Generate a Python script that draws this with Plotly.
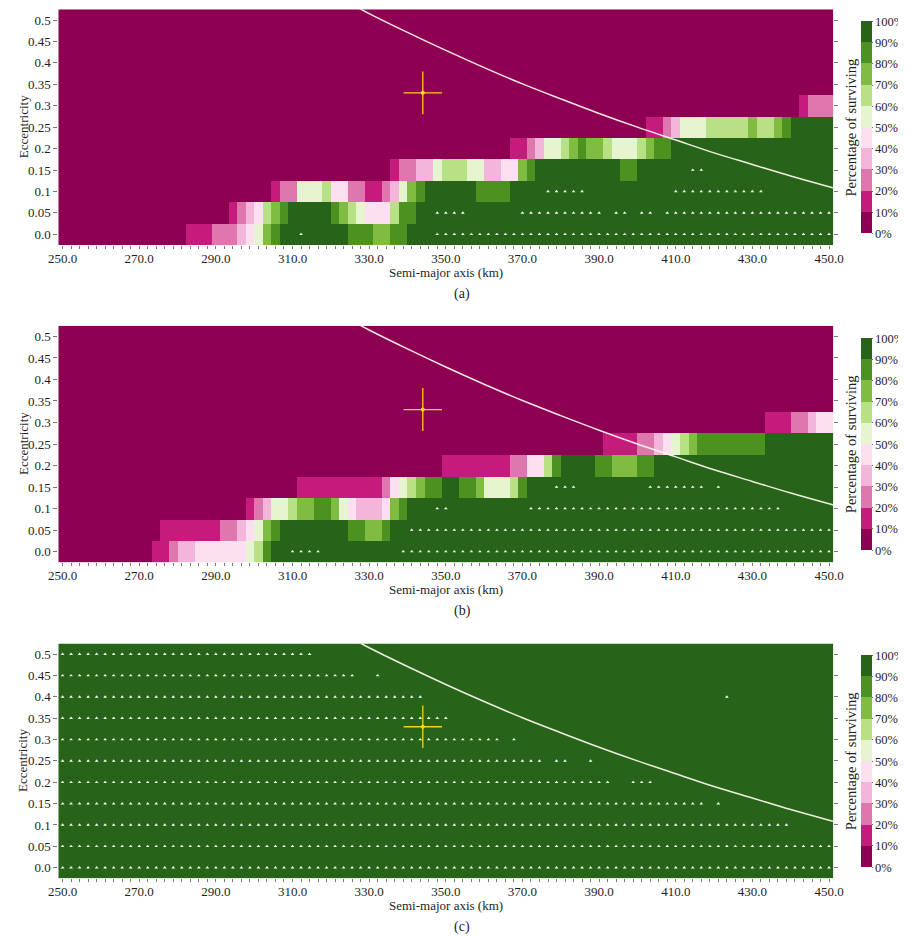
import numpy as np
import plotly.graph_objects as go

# ---------------- data ----------------
# grid of the simulation: 91 semi-major axis values (250..450 km), 11 eccentricities
semi_major_axis_km = np.linspace(250.0, 450.0, 91)
eccentricity = [0.0, 0.05, 0.1, 0.15, 0.2, 0.25, 0.3, 0.35, 0.4, 0.45, 0.5]
x_tick_labels = ["250.0", "270.0", "290.0", "310.0", "330.0", "350.0",
                 "370.0", "390.0", "410.0", "430.0", "450.0"]
y_tick_labels = ["0.0", "0.05", "0.1", "0.15", "0.2", "0.25", "0.3",
                 "0.35", "0.4", "0.45", "0.5"]
cbar_tick_labels = ["0%", "10%", "20%", "30%", "40%", "50%",
                    "60%", "70%", "80%", "90%", "100%"]

# surviving percentage, given per row (e = 0.0 upward) as runs of
# (decile class, number of consecutive a-cells); class k means k*10..k*10+10 %
survival_a_runs = [
    [(0, 15), (1, 3), (2, 3), (3, 1), (4, 1), (5, 1), (7, 1), (8, 1), (9, 8), (8, 3), (7, 2), (8, 2), (9, 50)],
    [(0, 20), (1, 1), (2, 1), (3, 1), (4, 1), (6, 1), (7, 1), (8, 1), (9, 5), (8, 1), (7, 1), (6, 1), (5, 1), (4, 3), (6, 1), (8, 2), (9, 49)],
    [(0, 25), (1, 1), (2, 2), (5, 3), (6, 1), (4, 2), (2, 2), (1, 2), (2, 1), (3, 1), (5, 1), (7, 1), (8, 1), (9, 6), (8, 4), (9, 38)],
    [(0, 39), (1, 1), (2, 2), (3, 2), (5, 1), (6, 3), (5, 2), (3, 2), (4, 2), (7, 1), (8, 1), (9, 10), (8, 2), (9, 23)],
    [(0, 53), (1, 2), (2, 1), (3, 1), (5, 2), (6, 1), (7, 1), (8, 1), (7, 2), (6, 1), (5, 3), (6, 1), (7, 1), (8, 2), (9, 19)],
    [(0, 69), (1, 2), (2, 1), (3, 1), (5, 3), (6, 5), (7, 1), (6, 2), (7, 1), (8, 1), (9, 5)],
    [(0, 87), (1, 1), (2, 3)],
    [(0, 91)], [(0, 91)], [(0, 91)], [(0, 91)],
]
survival_b_runs = [
    [(0, 11), (1, 2), (2, 1), (3, 2), (4, 6), (5, 1), (6, 1), (8, 1), (9, 66)],
    [(0, 12), (1, 7), (2, 2), (3, 1), (4, 1), (5, 1), (7, 1), (8, 1), (9, 8), (8, 2), (7, 2), (8, 1), (9, 52)],
    [(0, 22), (1, 1), (2, 1), (3, 1), (5, 2), (6, 1), (7, 2), (8, 2), (7, 1), (5, 1), (4, 1), (3, 3), (4, 1), (7, 1), (8, 1), (9, 50)],
    [(0, 28), (1, 10), (2, 1), (4, 1), (5, 1), (6, 1), (7, 1), (8, 2), (9, 2), (8, 2), (7, 1), (5, 3), (6, 1), (8, 1), (9, 36)],
    [(0, 45), (1, 8), (2, 2), (4, 2), (6, 1), (8, 1), (9, 4), (8, 2), (7, 3), (8, 2), (9, 21)],
    [(0, 64), (1, 4), (2, 2), (3, 1), (4, 1), (5, 1), (6, 1), (7, 1), (8, 8), (9, 8)],
    [(0, 83), (1, 3), (2, 2), (3, 1), (4, 2)],
    [(0, 91)], [(0, 91)], [(0, 91)], [(0, 91)],
]
survival_c_runs = [[(9, 91)] for _ in range(11)]

# cells where every sample survived (white markers): per row, column ranges (inclusive)
full_a = [
    [(28, 28), (44, 90)],
    [(44, 47), (54, 63), (65, 66), (68, 69), (71, 90)],
    [(57, 61), (72, 82)],
    [(74, 75)],
    [], [], [], [], [], [], [],
]
full_b = [
    [(27, 30), (40, 90)],
    [(41, 90)],
    [(44, 45), (55, 84)],
    [(58, 60), (69, 75), (77, 77)],
    [], [], [], [], [], [], [],
]
full_c = [
    [(0, 90)],
    [(0, 90)],
    [(0, 85)],
    [(0, 75), (77, 77)],
    [(0, 64), (67, 69)],
    [(0, 56), (58, 59), (62, 62)],
    [(0, 51), (53, 53)],
    [(0, 45)],
    [(0, 42), (78, 78)],
    [(0, 34), (37, 37)],
    [(0, 29)],
]

# white boundary curve
boundary_a_km = [320, 330, 340, 350, 360, 370, 380, 390, 400, 410, 420, 430, 440, 450, 460]
boundary_e = [0.563, 0.515, 0.471, 0.429, 0.389, 0.351, 0.316, 0.282, 0.250, 0.220, 0.190, 0.163, 0.136, 0.111, 0.087]

# yellow cross (reference orbit with uncertainty)
cross_a_km = [344.0]
cross_e = [0.33]
cross_da_km = [5.0]
cross_de = [0.05]

captions = ["(a)", "(b)", "(c)"]
cbar_title = "Percentage of surviving"

# ---------------- styling ----------------
palette = ["#8e0152", "#c51b7d", "#de77ae", "#f1b6da", "#fde0ef",
           "#e6f5d0", "#b8e186", "#7fbc41", "#4d9221", "#276419"]
colorscale = []
for k, c in enumerate(palette):
    colorscale.append([k / 10, c])
    colorscale.append([(k + 1) / 10, c])

FONT = "Liberation Serif"
TXT = "#1e1e1e"
OFF = 8            # page body margin of the browser
W, H = 906 - OFF, 936 - OFF


def expand(runs):
    row = []
    for cls, n in runs:
        row += [cls * 10 + 5] * n
    return row


def px(xp):
    return (xp - OFF) / W


def py(yp):
    return 1 - (yp - OFF) / H


x_dom = [px(58.3), px(833.3)]
panels = [  # (top px, bottom px, colorbar top px, colorbar bottom px) in page pixels
    (9.3, 245.0, 21.7, 233.3),
    (325.7, 562.3, 338.3, 550.0),
    (643.5, 878.3, 655.0, 867.3),
]
runs_all = [survival_a_runs, survival_b_runs, survival_c_runs]
full_all = [full_a, full_b, full_c]

half = (semi_major_axis_km[1] - semi_major_axis_km[0]) / 2
x_ticktext = [x_tick_labels[i // 9] if i % 9 == 0 else "" for i in range(91)]

fig = go.Figure()
annotations = []
for p, (top, bot, ctop, cbot) in enumerate(panels):
    xa = "x" if p == 0 else f"x{p+1}"
    ya = "y" if p == 0 else f"y{p+1}"
    z = [expand(r) for r in runs_all[p]]
    fig.add_trace(go.Heatmap(
        x=semi_major_axis_km, y=eccentricity, z=z, zmin=0, zmax=100,
        colorscale=colorscale, xaxis=xa, yaxis=ya, hoverinfo="skip",
        colorbar=dict(
            x=px(861.0), xanchor="left", y=py((ctop + cbot) / 2), yanchor="middle",
            len=cbot - ctop, lenmode="pixels", thickness=11, outlinewidth=0,
            xpad=0, ypad=0, tickmode="array", tickvals=list(range(0, 101, 10)),
            ticktext=cbar_tick_labels, ticks="outside", ticklen=1, tickcolor="#666",
            tickfont=dict(family=FONT, size=12.5, color=TXT),
        ),
    ))
    # full-survival markers
    xs, ys = [], []
    for r, ranges in enumerate(full_all[p]):
        for s, e in ranges:
            for c in range(s, e + 1):
                xs.append(semi_major_axis_km[c])
                ys.append(eccentricity[r])
    fig.add_trace(go.Scatter(
        x=xs, y=ys, mode="markers", xaxis=xa, yaxis=ya, hoverinfo="skip",
        marker=dict(symbol="triangle-up", size=3.2, color="white", line=dict(width=0)),
        showlegend=False,
    ))
    # boundary curve
    fig.add_trace(go.Scatter(
        x=boundary_a_km, y=boundary_e, mode="lines", xaxis=xa, yaxis=ya,
        line=dict(color="rgba(255,250,240,0.92)", width=1.5, shape="spline"),
        hoverinfo="skip", showlegend=False,
    ))
    # cross
    fig.add_trace(go.Scatter(
        x=cross_a_km, y=cross_e, mode="markers", xaxis=xa, yaxis=ya,
        marker=dict(size=4, color="#f3dc1e"),
        error_x=dict(type="data", array=cross_da_km, color="#f3d21e", thickness=1.3, width=0),
        error_y=dict(type="data", array=cross_de, color="#f3d21e", thickness=1.3, width=0),
        hoverinfo="skip", showlegend=False,
    ))

    xkey = "xaxis" if p == 0 else f"xaxis{p+1}"
    ykey = "yaxis" if p == 0 else f"yaxis{p+1}"
    fig.layout[xkey] = dict(
        domain=x_dom, anchor=ya, automargin=False,
        range=[semi_major_axis_km[0] - half, semi_major_axis_km[-1] + half],
        tickmode="array", tickvals=semi_major_axis_km, ticktext=x_ticktext,
        ticks="outside", ticklen=3, tickwidth=1, tickcolor="#777",
        ticklabelstandoff=-2,
        showgrid=False, zeroline=False, showline=False,
        tickfont=dict(family=FONT, size=13, color=TXT), tickangle=0,
    )
    fig.layout[ykey] = dict(
        domain=[py(bot), py(top)], anchor=xa, automargin=False,
        range=[-0.025, 0.525],
        tickmode="array", tickvals=eccentricity, ticktext=y_tick_labels,
        ticks="outside", ticklen=4, tickwidth=1, tickcolor="#777", mirror="ticks",
        showgrid=False, zeroline=False, showline=False,
        tickfont=dict(family=FONT, size=13, color=TXT),
    )
    # texts
    annotations.append(dict(
        text="Semi-major axis (km)", x=px(445.8), y=py(bot + 27), xref="paper", yref="paper",
        showarrow=False, xanchor="center", yanchor="middle",
        font=dict(family=FONT, size=13, color=TXT)))
    annotations.append(dict(
        text="Eccentricity", x=px(23), y=py((top + bot) / 2), xref="paper", yref="paper",
        showarrow=False, textangle=-90, xanchor="center", yanchor="middle",
        font=dict(family=FONT, size=13, color=TXT)))
    annotations.append(dict(
        text=cbar_title, x=px(851), y=py((ctop + cbot) / 2), xref="paper", yref="paper",
        showarrow=False, textangle=-90, xanchor="center", yanchor="middle",
        font=dict(family=FONT, size=14.5, color=TXT)))
    annotations.append(dict(
        text=captions[p], x=px(462), y=py(bot + 48.5), xref="paper", yref="paper",
        showarrow=False, xanchor="center", yanchor="middle",
        font=dict(family=FONT, size=14, color=TXT)))

fig.update_layout(
    width=W, height=H, margin=dict(l=0, r=0, t=0, b=0, autoexpand=False),
    paper_bgcolor="white", plot_bgcolor="white",
    showlegend=False, annotations=annotations,
)

fig.write_html("out.html")
